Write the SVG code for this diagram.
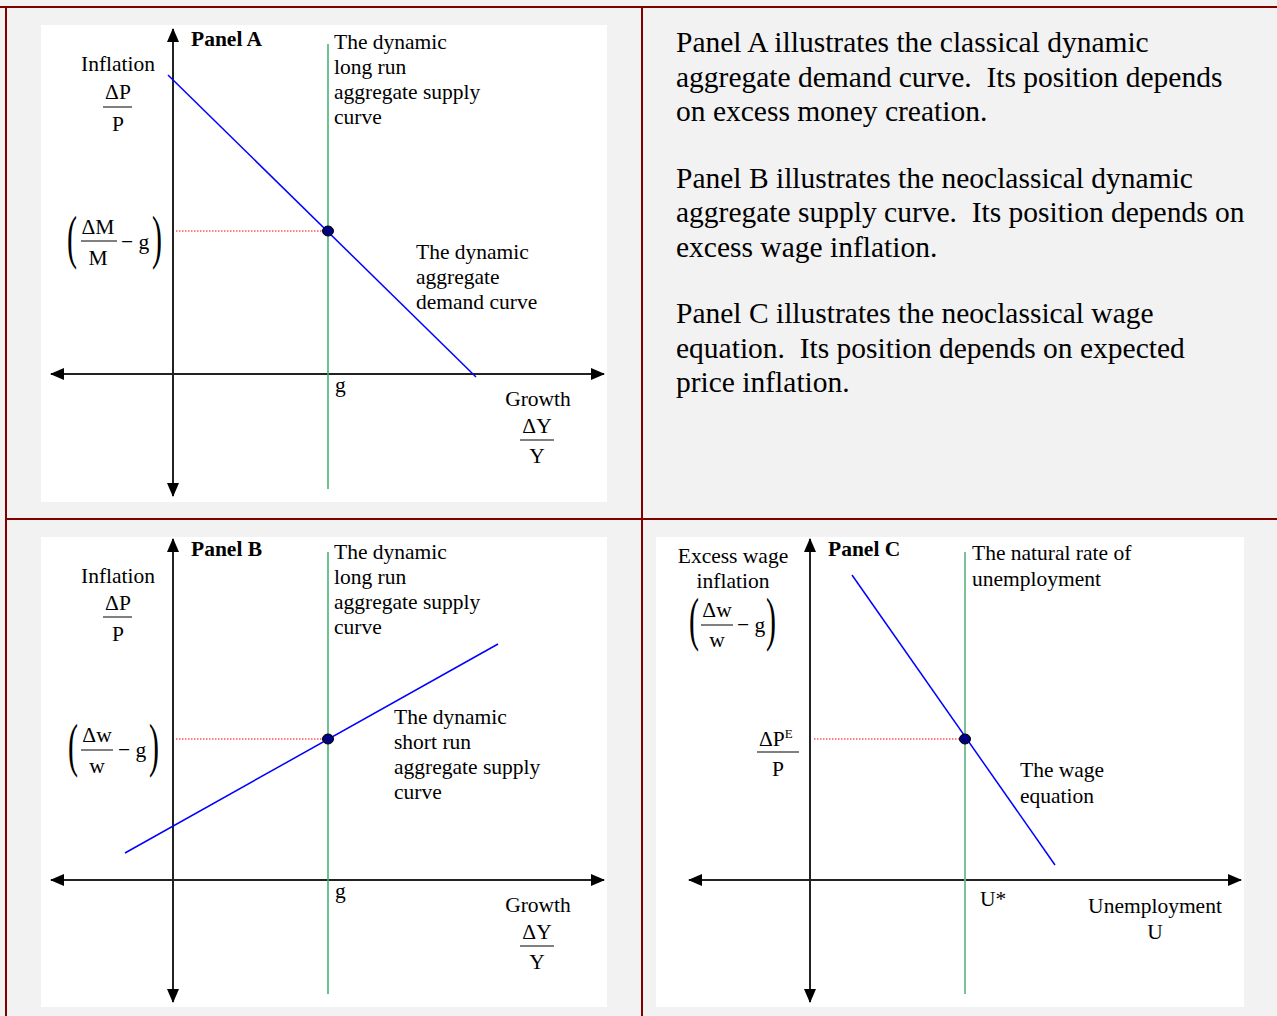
<svg xmlns="http://www.w3.org/2000/svg" width="1277" height="1016" viewBox="0 0 1277 1016">
<style>
text{font-family:"Liberation Serif","Times New Roman",serif;fill:#000;white-space:pre}
.t{font-size:21.5px}
.c{text-anchor:middle}
.b{font-weight:bold}
.big{font-size:29.5px}
.ax{stroke:#222;stroke-width:2;fill:none}
.gr{stroke:#3cae6e;stroke-width:1.5}
.gr2{stroke:#6dbb8f;stroke-width:1.8}
.bl{stroke:#0000ff;stroke-width:1.5}
.rd{stroke:#ff0000;stroke-width:1;stroke-dasharray:1.5 1.5}
.fr{stroke:#000;stroke-width:1}
.pt{fill:#000080;stroke:#000;stroke-width:1}
.bd{stroke:#800000;stroke-width:2}
.par{font-size:40px}
</style>
<defs>
<marker id="ah" viewBox="0 0 14 12" refX="13" refY="6" markerWidth="14" markerHeight="12" markerUnits="userSpaceOnUse" orient="auto-start-reverse">
<path d="M0,0 L14,6 L0,12 Z" fill="#000"/>
</marker>
</defs>
<rect width="1277" height="1016" fill="#f2f2f2"/>
<rect x="41" y="25" width="566" height="477" fill="#fff"/>
<rect x="41" y="537" width="566" height="470" fill="#fff"/>
<rect x="656" y="537" width="588" height="470" fill="#fff"/>
<g id="borders">
<line class="bd" x1="0" y1="7" x2="1277" y2="7"/>
<line class="bd" x1="6" y1="7" x2="6" y2="1016"/>
<line class="bd" x1="642" y1="7" x2="642" y2="1016"/>
<line class="bd" x1="6" y1="519" x2="1277" y2="519"/>
</g>
<g id="connectors">
<line class="ax" x1="173" y1="496" x2="173" y2="29" marker-start="url(#ah)" marker-end="url(#ah)"/>
<line class="ax" x1="51" y1="374" x2="604" y2="374" marker-start="url(#ah)" marker-end="url(#ah)"/>
<line class="gr" x1="328" y1="44" x2="328" y2="489"/>
<line class="bl" x1="168" y1="75" x2="476" y2="377"/>
<line class="rd" x1="176" y1="231" x2="326" y2="231"/>
<line class="ax" x1="173" y1="1002" x2="173" y2="539" marker-start="url(#ah)" marker-end="url(#ah)"/>
<line class="ax" x1="51" y1="880" x2="604" y2="880" marker-start="url(#ah)" marker-end="url(#ah)"/>
<line class="gr" x1="328" y1="552" x2="328" y2="994"/>
<line class="bl" x1="125" y1="853" x2="498" y2="644"/>
<line class="rd" x1="176" y1="739" x2="326" y2="739"/>
<line class="ax" x1="810" y1="1002" x2="810" y2="539" marker-start="url(#ah)" marker-end="url(#ah)"/>
<line class="ax" x1="689" y1="880" x2="1241" y2="880" marker-start="url(#ah)" marker-end="url(#ah)"/>
<line class="gr2" x1="965" y1="552" x2="965" y2="994"/>
<line class="bl" x1="852" y1="575" x2="1055" y2="865"/>
<line class="rd" x1="814" y1="739" x2="963" y2="739"/>
</g>
<g id="panelA">
<text class="t b" x="191" y="46">Panel A</text>
<text class="t c" x="118" y="71">Inflation</text>
<text class="t c" x="118" y="99">ΔP</text>
<line class="fr" x1="103" y1="107" x2="132" y2="107"/>
<text class="t c" x="118" y="131">P</text>
<text class="t" x="334" y="49">The dynamic</text>
<text class="t" x="334" y="74">long run</text>
<text class="t" x="334" y="99">aggregate supply</text>
<text class="t" x="334" y="124">curve</text>
<text class="par" transform="translate(67,257) scale(0.75,1.5)">(</text>
<text class="t c" x="98" y="234">ΔM</text>
<line class="fr" x1="81" y1="241" x2="117" y2="241"/>
<text class="t c" x="98" y="265">M</text>
<text class="t" x="121" y="249">− g</text>
<text class="par" transform="translate(152,257) scale(0.75,1.5)">)</text>
<ellipse class="pt" cx="328" cy="231" rx="5.5" ry="5"/>
<text class="t" x="416" y="259">The dynamic</text>
<text class="t" x="416" y="284">aggregate</text>
<text class="t" x="416" y="309">demand curve</text>
<text class="t" x="335" y="392">g</text>
<text class="t c" x="538" y="406">Growth</text>
<text class="t c" x="537" y="433">ΔY</text>
<line class="fr" x1="520" y1="440" x2="554" y2="440"/>
<text class="t c" x="537" y="463">Y</text>
</g>
<g id="description">
<text class="big" x="676" y="52">Panel A illustrates the classical dynamic</text>
<text class="big" x="676" y="87">aggregate demand curve.  Its position depends</text>
<text class="big" x="676" y="121">on excess money creation.</text>
<text class="big" x="676" y="188">Panel B illustrates the neoclassical dynamic</text>
<text class="big" x="676" y="222">aggregate supply curve.  Its position depends on</text>
<text class="big" x="676" y="257">excess wage inflation.</text>
<text class="big" x="676" y="323">Panel C illustrates the neoclassical wage</text>
<text class="big" x="676" y="358">equation.  Its position depends on expected</text>
<text class="big" x="676" y="392">price inflation.</text>
</g>
<g id="panelB">
<text class="t b" x="191" y="556">Panel B</text>
<text class="t c" x="118" y="583">Inflation</text>
<text class="t c" x="118" y="610">ΔP</text>
<line class="fr" x1="103" y1="617" x2="132" y2="617"/>
<text class="t c" x="118" y="641">P</text>
<text class="t" x="334" y="559">The dynamic</text>
<text class="t" x="334" y="584">long run</text>
<text class="t" x="334" y="609">aggregate supply</text>
<text class="t" x="334" y="634">curve</text>
<text class="par" transform="translate(68,765) scale(0.75,1.5)">(</text>
<text class="t c" x="97" y="742">Δw</text>
<line class="fr" x1="81" y1="750" x2="113" y2="750"/>
<text class="t c" x="97" y="773">w</text>
<text class="t" x="118" y="757">− g</text>
<text class="par" transform="translate(149,765) scale(0.75,1.5)">)</text>
<ellipse class="pt" cx="328" cy="739" rx="5.5" ry="5"/>
<text class="t" x="394" y="724">The dynamic</text>
<text class="t" x="394" y="749">short run</text>
<text class="t" x="394" y="774">aggregate supply</text>
<text class="t" x="394" y="799">curve</text>
<text class="t" x="335" y="898">g</text>
<text class="t c" x="538" y="912">Growth</text>
<text class="t c" x="537" y="939">ΔY</text>
<line class="fr" x1="520" y1="946" x2="554" y2="946"/>
<text class="t c" x="537" y="969">Y</text>
</g>
<g id="panelC">
<text class="t b" x="828" y="556">Panel C</text>
<text class="t c" x="733" y="563">Excess wage</text>
<text class="t c" x="733" y="588">inflation</text>
<text class="par" transform="translate(689,639) scale(0.75,1.5)">(</text>
<text class="t c" x="717" y="617">Δw</text>
<line class="fr" x1="701" y1="625" x2="733" y2="625"/>
<text class="t c" x="717" y="647">w</text>
<text class="t" x="737" y="632">− g</text>
<text class="par" transform="translate(766,639) scale(0.75,1.5)">)</text>
<text class="t" x="759" y="746">ΔP<tspan font-size="13" dy="-8">E</tspan></text>
<line class="fr" x1="757" y1="752" x2="799" y2="752"/>
<text class="t c" x="778" y="776">P</text>
<text class="t" x="972" y="560">The natural rate of</text>
<text class="t" x="972" y="586">unemployment</text>
<ellipse class="pt" cx="965" cy="739" rx="5.5" ry="5"/>
<text class="t" x="1020" y="777">The wage</text>
<text class="t" x="1020" y="803">equation</text>
<text class="t" x="980" y="906">U*</text>
<text class="t c" x="1155" y="913">Unemployment</text>
<text class="t c" x="1155" y="939">U</text>
</g>
</svg>
